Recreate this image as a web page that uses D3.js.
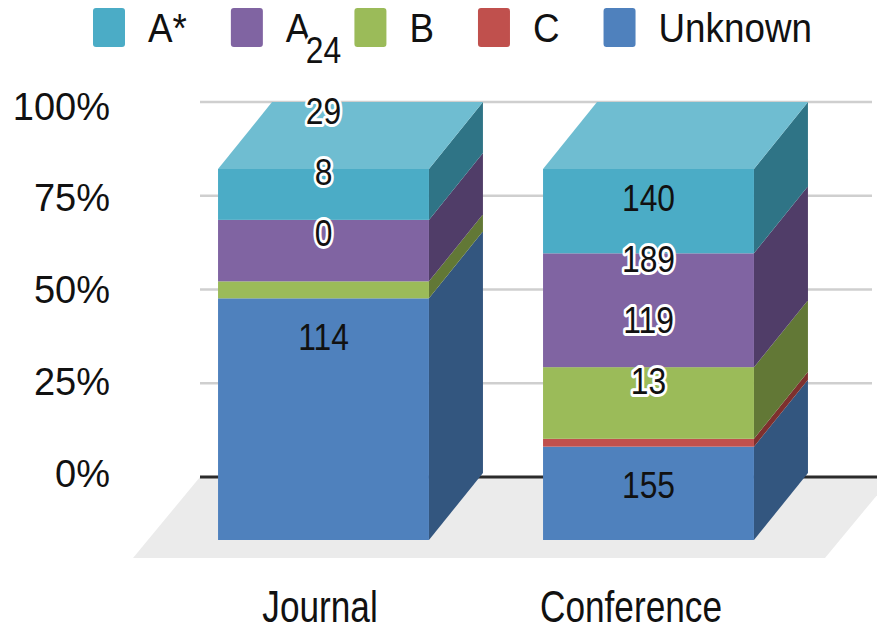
<!DOCTYPE html>
<html>
<head>
<meta charset="utf-8">
<script src="https://cdn.jsdelivr.net/npm/d3@7"></script>
<style>
  html, body { margin: 0; padding: 0; background: #ffffff; }
  svg { display: block; font-family: "Liberation Sans", Arial, sans-serif; }
</style>
</head>
<body>
<svg id="chart" width="877" height="630"></svg>
<script>
// Publication venues by rank, shown as 100% stacked 3D columns.
const categories = ["Journal", "Conference"];
const stackOrder = ["Unknown", "C", "B", "A", "A*"];     // bottom to top
const legendOrder = ["A*", "A", "B", "C", "Unknown"];
const unknownCounts = [114, 155];
const cCounts = [0, 13];
const bCounts = [8, 119];
const aCounts = [29, 189];
const aStarCounts = [24, 140];
const yTicks = [0, 0.25, 0.5, 0.75, 1];

const countsBySeries = {
  "Unknown": unknownCounts, "C": cCounts, "B": bCounts, "A": aCounts, "A*": aStarCounts
};

const frontColor = { "A*": "#4bacc6", "A": "#8064a2", "B": "#9bbb59", "C": "#c0504d", "Unknown": "#4f81bd" };
const sideColor  = { "A*": "#2f7486", "A": "#503d68", "B": "#627836", "C": "#7e302e", "Unknown": "#33567f" };
const topColor   = "#6fbdd1";

const svg = d3.select("#chart");

// Depth of the 3D boxes (towards the back wall: right and up)
const depthX = 54, depthY = -67;

const rows = categories.map((c, i) => {
  const r = { category: c };
  stackOrder.forEach(s => r[s] = countsBySeries[s][i]);
  return r;
});
const stacked = d3.stack().keys(stackOrder).offset(d3.stackOffsetExpand)(rows);

const x = d3.scaleBand().domain(categories).range([161, 811]).paddingInner(0.351).paddingOuter(0.1755);
const yFront = d3.scaleLinear().domain([0, 1]).range([540, 169]);   // front faces
const yWall = d3.scaleLinear().domain([0, 1]).range([477, 102]);    // back wall gridlines
const yTickText = d3.scaleLinear().domain([0, 1]).range([473, 106]); // tick label centres
const xLabel = d3.scalePoint().domain(categories).range([320, 631]);

// Floor
const floorBack = yWall(0), floorFront = 558;
const floorLeft = 200, floorRight = 892, floorSlant = -67;
svg.append("polygon")
  .attr("points", [
    [floorLeft, floorBack], [floorRight, floorBack],
    [floorRight + floorSlant, floorFront], [floorLeft + floorSlant, floorFront]
  ].map(p => p.join(",")).join(" "))
  .attr("fill", "#ebebeb");

// Gridlines on the back wall
svg.append("g").selectAll("line")
  .data(yTicks.filter(t => t > 0))
  .join("line")
  .attr("x1", 200).attr("x2", 872)
  .attr("y1", d => yWall(d)).attr("y2", d => yWall(d))
  .attr("stroke", "#cfcfcf").attr("stroke-width", 2.5);

svg.append("line")
  .attr("x1", 200).attr("x2", 877)
  .attr("y1", yWall(0)).attr("y2", yWall(0))
  .attr("stroke", "#2b2b2b").attr("stroke-width", 3);

// Y axis labels
svg.append("g").selectAll("text")
  .data(yTicks)
  .join("text")
  .attr("x", 110)
  .attr("y", d => yTickText(d))
  .attr("dy", "0.36em")
  .attr("text-anchor", "end")
  .attr("font-size", 38)
  .attr("fill", "#111")
  .text(d3.format(".0%"));

// Columns
const bw = x.bandwidth();
const bars = svg.append("g");
categories.forEach((cat, ci) => {
  const g = bars.append("g");
  const x0 = x(cat), x1 = x0 + bw;
  stacked.forEach(layer => {
    const d = layer[ci];
    const yb = yFront(d[0]), yt = yFront(d[1]);
    // right side face
    g.append("polygon")
      .attr("points", [[x1, yt], [x1 + depthX, yt + depthY], [x1 + depthX, yb + depthY], [x1, yb]]
        .map(p => p.join(",")).join(" "))
      .attr("fill", sideColor[layer.key]);
    // front face
    g.append("rect")
      .attr("x", x0).attr("y", yt)
      .attr("width", bw).attr("height", Math.max(0, yb - yt))
      .attr("fill", frontColor[layer.key]);
  });
  // top face of the highest segment
  const topY = yFront(1);
  g.append("polygon")
    .attr("points", [[x0, topY], [x0 + depthX, topY + depthY], [x1 + depthX, topY + depthY], [x1, topY]]
      .map(p => p.join(",")).join(" "))
    .attr("fill", topColor);
});

// Legend
const legend = svg.append("g");
const legendScaleX = 0.92;
let lx = 93;
legendOrder.forEach(key => {
  legend.append("rect")
    .attr("x", lx).attr("y", 8).attr("width", 32).attr("height", 39)
    .attr("rx", 3).attr("fill", frontColor[key]);
  const t = legend.append("text")
    .attr("transform", `translate(${lx + 55},42) scale(${legendScaleX},1)`)
    .attr("font-size", 40).attr("fill", "#111")
    .text(key);
  lx += 55 + t.node().getComputedTextLength() * legendScaleX + 44;
});

// Category labels
svg.append("g").selectAll("text")
  .data(categories)
  .join("text")
  .attr("transform", d => `translate(${xLabel(d)},622) scale(0.8,1)`)
  .attr("text-anchor", "middle")
  .attr("font-size", 44)
  .attr("fill", "#111")
  .text(d => d);

// Value labels: the base segment's label sits just inside its top edge,
// the others are stacked upwards from there at a fixed step.
const labelHalf = 14;
const labels = svg.append("g");
categories.forEach((cat, ci) => {
  const cx = x(cat) + bw / 2;
  const base = yFront(stacked[0][ci][1]);
  stacked.forEach((layer, li) => {
    const d = layer[ci];
    const ly = li === 0 ? base + 38 : base - 66 - 61 * (li - 1);
    const segTop = yFront(d[1]), segBot = yFront(d[0]);
    const inside = ly - labelHalf >= segTop && ly + labelHalf <= segBot;
    const t = labels.append("text")
      .attr("transform", `translate(${cx},${ly}) scale(0.86,1)`)
      .attr("dy", "0.36em")
      .attr("text-anchor", "middle")
      .attr("font-size", 37)
      .attr("fill", "#111")
      .text(countsBySeries[layer.key][ci]);
    if (!inside) {
      t.attr("stroke", "#ffffff").attr("stroke-width", 6)
        .attr("stroke-linejoin", "round").attr("paint-order", "stroke");
    }
  });
});
</script>
</body>
</html>
